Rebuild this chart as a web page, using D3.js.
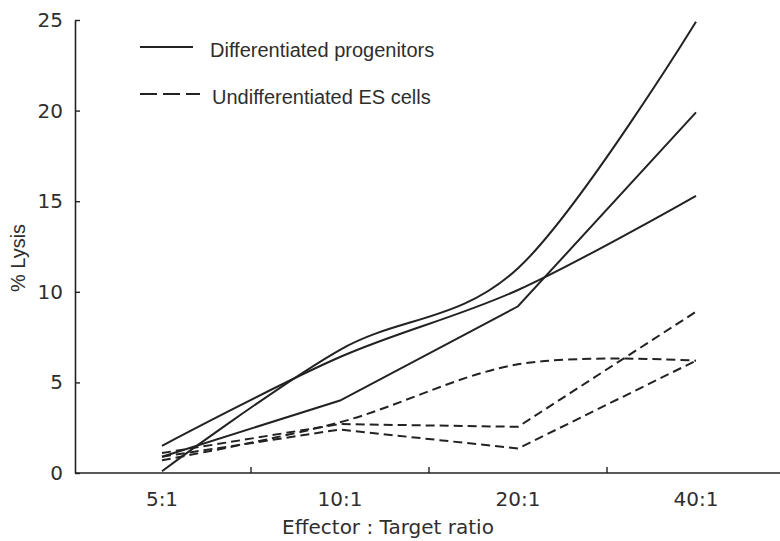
<!DOCTYPE html>
<html>
<head>
<meta charset="utf-8">
<script src="https://cdn.jsdelivr.net/npm/d3@7"></script>
<style>
  body { margin: 0; background: #fff; }
  svg { display: block; }
</style>
</head>
<body>
<svg></svg>
<script>

  // effector : target ratios
  var categories = ["5:1", "10:1", "20:1", "40:1"];
  var yTicks = [0, 5, 10, 15, 20, 25];

  // % lysis, differentiated progenitors (solid)
  var progA = [0.1, 6.8, 11.3, 24.9];
  var progB = [1.5, 6.4, 10.1, 15.3];
  var progC = [0.9, 4.0, 9.2, 19.9];

  // % lysis, undifferentiated ES cells (dashed)
  var esA = [0.7, 2.8, 6.0, 6.2];
  var esB = [1.1, 2.7, 2.55, 8.9];
  var esC = [0.9, 2.4, 1.35, 6.2];

  var legendLabels = ["Differentiated progenitors", "Undifferentiated ES cells"];

  var W = 780, H = 541;
  var ink = "#222";

  var svg = d3.select("svg").attr("width", W).attr("height", H);

  var x = d3.scaleBand().domain(categories).range([73, 785]).padding(0);
  var y = d3.scaleLinear().domain([0, 25]).range([473, 20]);

  // series list: values, dashed?, smoothed?
  var series = [
    { v: progA, dash: false, smooth: true },
    { v: progB, dash: false, smooth: true },
    { v: progC, dash: false, smooth: false },
    { v: esA, dash: true, smooth: true },
    { v: esB, dash: true, smooth: false },
    { v: esC, dash: true, smooth: false }
  ];

  // y axis
  var yAxis = svg.append("g")
    .attr("transform", "translate(75,0)")
    .call(d3.axisLeft(y).tickValues(yTicks).tickSizeInner(-5).tickSizeOuter(0).tickPadding(12));
  yAxis.select(".domain").attr("stroke", ink).attr("stroke-width", 1.6);
  yAxis.selectAll(".tick line").attr("stroke", ink).attr("stroke-width", 1.4);
  yAxis.selectAll(".tick text")
    .attr("fill", "#2e2e2e")
    .style("font-family", "'DejaVu Sans', Verdana, sans-serif")
    .style("font-size", "20px");

  // x axis (labels at band centres)
  var xAxis = svg.append("g")
    .attr("transform", "translate(0,473)")
    .call(d3.axisBottom(x).tickSize(0).tickPadding(19));
  xAxis.select(".domain").remove();
  xAxis.selectAll(".tick text")
    .attr("fill", "#2e2e2e")
    .style("font-family", "'DejaVu Sans', Verdana, sans-serif")
    .style("font-size", "20px");

  svg.append("line")
    .attr("x1", 75).attr("x2", W)
    .attr("y1", y(0)).attr("y2", y(0))
    .attr("stroke", ink).attr("stroke-width", 1.6);

  // small ticks between categories
  svg.selectAll(".xsep")
    .data(categories.slice(1))
    .enter().append("line")
    .attr("class", "xsep")
    .attr("x1", function(d) { return x(d); })
    .attr("x2", function(d) { return x(d); })
    .attr("y1", y(0)).attr("y2", y(0) - 6)
    .attr("stroke", ink).attr("stroke-width", 1.4);

  // axis titles
  svg.append("text")
    .attr("x", 388).attr("y", 534)
    .attr("text-anchor", "middle")
    .attr("fill", "#2e2e2e")
    .style("font-family", "'DejaVu Sans', Verdana, sans-serif")
    .style("font-size", "20px")
    .text("Effector : Target ratio");

  svg.append("text")
    .attr("transform", "translate(25,258) rotate(-90)")
    .attr("text-anchor", "middle")
    .attr("fill", "#2e2e2e")
    .style("font-family", "'Liberation Sans', Arial, sans-serif")
    .style("font-size", "20px")
    .text("% Lysis");

  // lines
  var line = function(smooth) {
    return d3.line()
      .x(function(d, i) { return x(categories[i]) + x.bandwidth() / 2; })
      .y(function(d) { return y(d); })
      .curve(smooth ? d3.curveCardinal.tension(0) : d3.curveLinear);
  };

  svg.selectAll(".series")
    .data(series)
    .enter().append("path")
    .attr("class", "series")
    .attr("d", function(s) { return line(s.smooth)(s.v); })
    .attr("fill", "none")
    .attr("stroke", ink)
    .attr("stroke-width", 2)
    .attr("stroke-dasharray", function(s) { return s.dash ? "9,5" : null; });

  // legend
  var legend = svg.selectAll(".legend")
    .data(legendLabels)
    .enter().append("g")
    .attr("class", "legend")
    .attr("transform", function(d, i) { return "translate(0," + (47 + i * 47) + ")"; });

  legend.append("line")
    .attr("x1", 140)
    .attr("x2", function(d, i) { return i ? 200 : 193; })
    .attr("y1", 0).attr("y2", 0)
    .attr("stroke", ink).attr("stroke-width", 2)
    .attr("stroke-dasharray", function(d, i) { return i ? "17,6" : null; });

  legend.append("text")
    .attr("x", function(d, i) { return i ? 212 : 210; })
    .attr("y", 4)
    .attr("dy", "0.32em")
    .attr("fill", "#2e2e2e")
    .style("font-family", "'Liberation Sans', Arial, sans-serif")
    .style("font-size", "20px")
    .text(function(d) { return d; });

</script>
</body>
</html>
